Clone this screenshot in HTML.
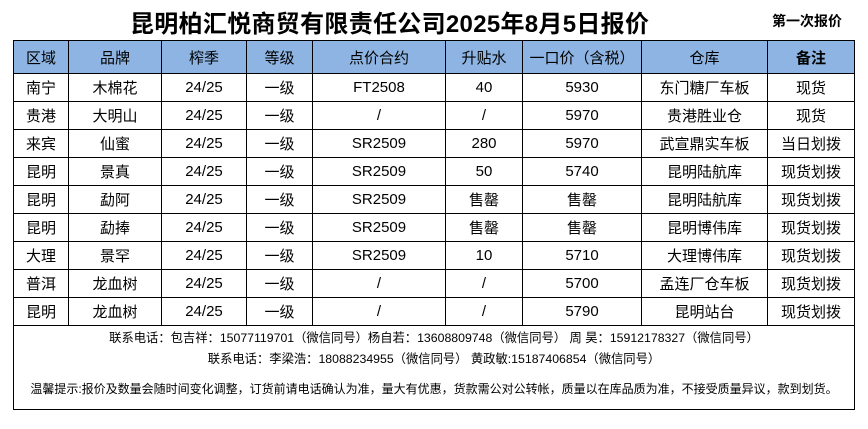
<!DOCTYPE html>
<html><head><meta charset="utf-8"><style>
body{margin:0;width:868px;height:429px;background:#fff;font-family:"Liberation Sans","Noto Sans CJK SC",sans-serif;color:#000;position:relative;overflow:hidden}
.t{position:absolute;left:130px;top:4px;font-size:24px;font-weight:bold;white-space:nowrap;letter-spacing:0.3px}
.s{position:absolute;left:772px;top:11px;font-size:14px;font-weight:bold}
table{position:absolute;left:13px;top:40px;border-collapse:collapse;table-layout:fixed}
td{border:1px solid #000;text-align:center;font-size:15px;height:27px;padding:0;white-space:nowrap}
tr.h td{background:#8DB4E2;height:32px;font-size:15px}
.box{position:absolute;left:13px;top:325px;width:840px;height:84px;border:1px solid #000;border-top:none;font-size:12.3px}
.box div{position:absolute;width:100%;text-align:center;white-space:nowrap}
</style></head><body>
<div class="t">昆明柏汇悦商贸有限责任公司2025年8月5日报价</div>
<div class="s">第一次报价</div>
<table>
<colgroup><col style="width:55px"><col style="width:93px"><col style="width:85px"><col style="width:66px"><col style="width:133px"><col style="width:77px"><col style="width:119px"><col style="width:126px"><col style="width:87px"></colgroup>
<tr class="h"><td>区域</td><td>品牌</td><td>榨季</td><td>等级</td><td>点价合约</td><td>升贴水</td><td>一口价（含税）</td><td>仓库</td><td><b>备注</b></td></tr>
<tr><td>南宁</td><td>木棉花</td><td>24/25</td><td>一级</td><td>FT2508</td><td>40</td><td>5930</td><td>东门糖厂车板</td><td>现货</td></tr>
<tr><td>贵港</td><td>大明山</td><td>24/25</td><td>一级</td><td>/</td><td>/</td><td>5970</td><td>贵港胜业仓</td><td>现货</td></tr>
<tr><td>来宾</td><td>仙蜜</td><td>24/25</td><td>一级</td><td>SR2509</td><td>280</td><td>5970</td><td>武宣鼎实车板</td><td>当日划拨</td></tr>
<tr><td>昆明</td><td>景真</td><td>24/25</td><td>一级</td><td>SR2509</td><td>50</td><td>5740</td><td>昆明陆航库</td><td>现货划拨</td></tr>
<tr><td>昆明</td><td>勐阿</td><td>24/25</td><td>一级</td><td>SR2509</td><td>售罄</td><td>售罄</td><td>昆明陆航库</td><td>现货划拨</td></tr>
<tr><td>昆明</td><td>勐捧</td><td>24/25</td><td>一级</td><td>SR2509</td><td>售罄</td><td>售罄</td><td>昆明博伟库</td><td>现货划拨</td></tr>
<tr><td>大理</td><td>景罕</td><td>24/25</td><td>一级</td><td>SR2509</td><td>10</td><td>5710</td><td>大理博伟库</td><td>现货划拨</td></tr>
<tr><td>普洱</td><td>龙血树</td><td>24/25</td><td>一级</td><td>/</td><td>/</td><td>5700</td><td>孟连厂仓车板</td><td>现货划拨</td></tr>
<tr><td>昆明</td><td>龙血树</td><td>24/25</td><td>一级</td><td>/</td><td>/</td><td>5790</td><td>昆明站台</td><td>现货划拨</td></tr>
</table>
<div class="box">
<div style="top:3px">联系电话：包吉祥：15077119701（微信同号）杨自若：13608809748（微信同号） 周 昊：15912178327（微信同号）</div>
<div style="top:24px">联系电话：李梁浩：18088234955（微信同号） 黄政敏:15187406854（微信同号）</div>
<div style="top:55px;font-size:12px">温馨提示:报价及数量会随时间变化调整，订货前请电话确认为准，量大有优惠，货款需公对公转帐，质量以在库品质为准，不接受质量异议，款到划货。</div>
</div>
</body></html>
